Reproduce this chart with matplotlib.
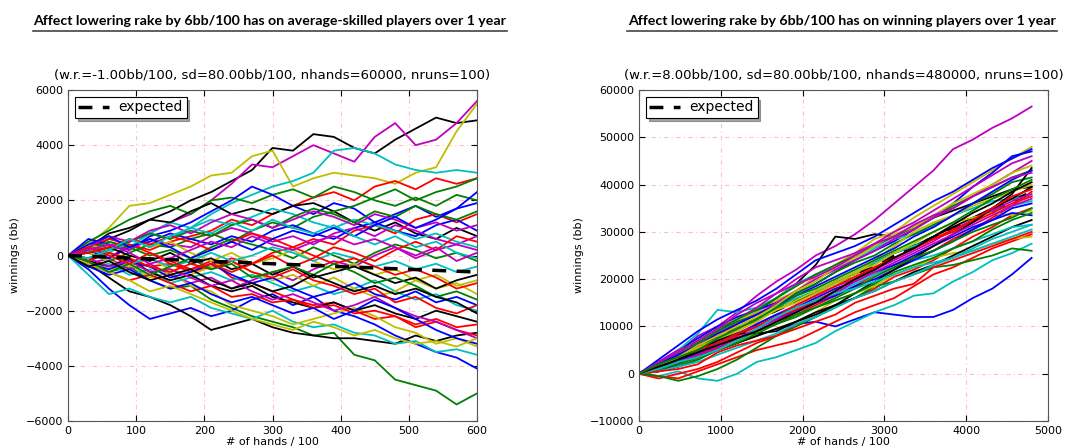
import numpy as np
import matplotlib.pyplot as plt
from matplotlib.lines import Line2D

# ---- data ----
title_left = "Affect lowering rake by 6bb/100 has on average-skilled players over 1 year"
title_right = "Affect lowering rake by 6bb/100 has on winning players over 1 year"
sub_left = "(w.r.=-1.00bb/100, sd=80.00bb/100, nhands=60000, nruns=100)"
sub_right = "(w.r.=8.00bb/100, sd=80.00bb/100, nhands=480000, nruns=100)"

# x positions (# of hands / 100)
x_left = [0, 30, 60, 90, 120, 150, 180, 210, 240, 270, 300, 330, 360, 390, 420, 450, 480, 510, 540, 570, 600]
x_right = [0, 240, 480, 720, 960, 1200, 1440, 1680, 1920, 2160, 2400, 2640, 2880, 3120, 3360, 3600, 3840, 4080, 4320, 4560, 4800]

runs_left = [
    [0, 250, 600, 900, 1300, 1600, 2000, 2300, 2700, 3100, 3900, 3800, 4400, 4300, 3900, 3700, 4200, 4600, 5000, 4800, 4900],
    [0, -200, 300, 500, 800, 1200, 1500, 2000, 2600, 3300, 3200, 3600, 4000, 3700, 3400, 4300, 4800, 4000, 4200, 4800, 5600],
    [0, 400, 1000, 1800, 1900, 2200, 2500, 2900, 3000, 3600, 3800, 2500, 2800, 3000, 2900, 2800, 2600, 3000, 3200, 4500, 5500],
    [0, 200, 500, 300, 800, 1200, 1000, 1500, 1900, 2200, 2500, 2700, 3000, 3800, 3900, 3700, 3300, 3100, 3000, 3100, 3000],
    [0, -300, -600, -400, -900, -1200, -1100, -1600, -1900, -2200, -2400, -2600, -2900, -2800, -3600, -3800, -4500, -4700, -4900, -5400, -5000],
    [0, -500, -1200, -1800, -2300, -2100, -1900, -2200, -2000, -1600, -1400, -1800, -1500, -2000, -2200, -2500, -2900, -3200, -3500, -3700, -4100],
    [0, -300, -800, -1300, -1500, -1800, -2200, -2700, -2500, -2300, -2600, -2800, -2900, -3000, -3000, -3100, -3200, -2900, -3100, -2900, -2800],
    [0, -700, -1400, -1200, -1500, -1700, -1500, -1900, -2100, -2300, -2000, -2400, -2600, -2500, -2800, -2900, -3200, -3100, -3500, -3400, -3600],
    [0, 200, -100, 400, 100, -300, -500, -200, -800, -1000, -1300, -1600, -1800, -1700, -2000, -2300, -2200, -2600, -2400, -2700, -2900],
    [0, 300, 600, 400, 200, 500, 700, 900, 1300, 1100, 1500, 1800, 2100, 2300, 2000, 2500, 2700, 2400, 2800, 2600, 2800],
    [0, 500, 900, 1300, 1600, 1800, 1500, 2000, 2100, 1900, 2200, 2400, 2100, 2500, 2300, 2000, 1800, 2100, 1800, 2200, 2000],
    [0, 600, 400, 200, 700, 900, 1200, 1600, 2000, 2500, 2200, 1800, 1500, 1900, 1700, 1200, 1500, 1800, 1400, 1700, 2300],
    [0, -300, -100, -500, -300, -700, -1000, -800, -1200, -900, -600, -900, -500, -200, -400, 0, 300, -100, 200, 400, 200],
    [0, -200, -500, -300, -800, -600, -1100, -1300, -1800, -2000, -2200, -2500, -2300, -2100, -1900, -2200, -2600, -2800, -3200, -3000, -3300],
    [0, 300, 800, 1000, 1300, 1200, 1600, 1900, 1500, 1700, 1500, 1800, 1900, 1600, 1200, 900, 1200, 800, 600, 1000, 700],
    [0, -100, 100, -200, -400, -300, -600, -400, -100, -300, 100, 300, 600, 400, 900, 1100, 800, 1300, 1500, 1200, 1500],
    [0, 100, -200, 100, 400, 300, 600, 800, 500, 900, 1200, 1000, 1400, 1600, 1800, 2100, 2400, 2000, 2300, 2500, 2800],
    [0, -400, -300, -700, -500, -1000, -800, -600, -900, -700, -1000, -1300, -1100, -1400, -1200, -900, -1300, -1600, -1400, -1800, -2000],
    [0, 200, -100, 300, 500, 800, 600, 400, 700, 500, 900, 1100, 800, 600, 1000, 1200, 900, 700, 1100, 1300, 900],
    [0, 100, 400, 200, 600, 400, 300, 700, 1000, 800, 500, 700, 400, 800, 1000, 700, 1100, 900, 600, 400, 700],
    [0, 100, -200, -400, -100, -500, -700, -400, -200, -600, -900, -700, -1100, -800, -1200, -1500, -1300, -900, -1200, -1000, -1400],
    [0, -200, -400, -100, -600, -900, -700, -1100, -1300, -1100, -1500, -1700, -1900, -1700, -2000, -1800, -2100, -2300, -2000, -2200, -2400],
    [0, -300, -600, -900, -700, -1000, -1300, -1100, -1500, -1400, -1700, -1600, -1900, -1800, -2100, -2000, -2200, -2500, -2300, -2600, -2500],
    [0, 200, 500, 300, 0, 200, -100, 300, 600, 400, 200, -100, 300, 0, -300, 100, 400, 200, -100, 100, -200],
    [0, 300, 100, 500, 800, 600, 1000, 1300, 1100, 1400, 1700, 1500, 1200, 1000, 1300, 1100, 900, 600, 800, 500, 300],
    [0, -300, -500, -200, -400, -800, -600, -300, -700, -1000, -800, -1200, -1500, -1300, -1000, -1400, -1600, -1300, -1700, -1500, -1800],
    [0, -100, -400, -200, -600, -500, -800, -1100, -900, -1300, -1600, -1400, -1700, -2000, -1800, -1500, -1900, -2200, -2400, -2700, -3000],
    [0, 400, 200, 600, 300, 500, 100, -200, 100, -300, -100, 200, -200, -500, -300, -700, -500, -900, -700, -1100, -900],
    [0, 100, 300, 0, -200, 100, -300, -100, -500, -300, -700, -400, -800, -600, -400, -700, -1000, -800, -1200, -900, -700],
    [0, -200, 100, -100, -400, -600, -300, -500, -200, -600, -800, -500, -900, -1100, -1400, -1200, -1700, -1500, -1900, -2100, -1800],
    [0, -100, 200, 500, 800, 600, 900, 700, 1100, 1300, 1000, 1400, 1700, 1500, 1200, 1600, 1400, 1800, 1500, 1300, 1600],
    [0, -400, -700, -500, -900, -1200, -1000, -1400, -1700, -1500, -1800, -2100, -1900, -2300, -2000, -1600, -1900, -2300, -2700, -3000, -3200],
    [0, 200, 0, -300, -100, -400, -200, 100, -200, 0, 300, 100, -200, 100, -100, -400, -200, -500, -300, -600, -400],
    [0, 300, 700, 500, 900, 1100, 800, 1200, 1500, 1300, 1000, 1300, 1600, 1400, 1100, 1500, 1300, 1000, 1200, 900, 1100],
    [0, -300, -600, -900, -1300, -1100, -1400, -1700, -2000, -2300, -2500, -2700, -2400, -2600, -2900, -2700, -3000, -3200, -3100, -3300, -3000],
    [0, 100, 300, 600, 400, 700, 500, 200, 500, 800, 600, 300, 0, -300, -100, -400, -700, -500, -800, -1200, -1000],
    [0, 400, 700, 300, 600, 300, -100, 200, 500, 200, 600, 900, 700, 1000, 700, 1100, 1400, 1000, 1300, 1700, 1900],
    [0, -200, -600, -300, -700, -400, -100, -500, -300, -800, -600, -400, -700, -300, -600, -1000, -800, -1100, -1500, -1300, -1600],
    [0, 300, 0, -300, 100, -200, -500, -300, -600, -300, 0, -400, -100, 300, 100, -200, 200, 500, 200, 700, 500],
    [0, -100, 200, 600, 300, 700, 1000, 800, 1200, 900, 1300, 1000, 800, 1100, 700, 400, 700, 300, 500, 100, -100],
    [0, 200, 400, 100, -300, -100, 200, 500, 300, 700, 400, 200, 500, 700, 400, 600, 300, 0, 300, -200, 100],
    [0, -400, -200, -600, -900, -700, -500, -900, -1200, -1000, -1300, -1100, -700, -1000, -1300, -1100, -1400, -1200, -1500, -1700, -2100],
]
colors_left = ['k', 'm', 'y', 'c', 'g', 'b', 'k', 'c', 'r', 'r', 'g', 'b', 'm', 'y', 'k', 'r', 'g', 'c',
               'b', 'm', 'y', 'k', 'r', 'g', 'c', 'b', 'm', 'y', 'k', 'r', 'g', 'b', 'c', 'm', 'y', 'r',
               'b', 'g', 'r', 'c', 'm', 'k']

runs_right = [
    [0, 2500, 4500, 8000, 10000, 13000, 16500, 19500, 22000, 25000, 27000, 29500, 32500, 36000, 39500, 43000, 47500, 49500, 52000, 54000, 56500],
    [0, 1000, 2500, 4000, 5000, 6500, 8000, 9500, 10500, 11000, 10000, 11500, 13000, 12500, 12000, 12000, 13500, 16000, 18000, 21000, 24500],
    [0, -500, 500, -1000, -1500, 0, 2500, 3500, 5000, 6500, 9000, 11000, 13000, 14500, 16500, 17000, 19500, 21500, 24000, 25500, 27500],
    [0, 2000, 4000, 6000, 8500, 10500, 13000, 16000, 19000, 23000, 29000, 28500, 29500, 29000, 31000, 33000, 34500, 36000, 37500, 39000, 39500],
    [0, 2000, 4500, 6000, 8500, 11000, 13000, 15500, 17500, 20500, 23000, 25500, 28500, 30000, 33000, 35500, 38000, 40500, 43000, 45500, 48000],
    [0, 2500, 5000, 7500, 10000, 12000, 13500, 15000, 17000, 19000, 21500, 24000, 26000, 28000, 30500, 33000, 36000, 39500, 42500, 46000, 47000],
    [0, 2000, 5000, 8500, 13500, 13000, 14000, 16000, 19000, 21000, 22500, 24000, 26500, 28500, 29500, 31000, 33500, 35000, 36500, 37000, 37500],
    [0, -500, -1000, 500, 2000, 3500, 5000, 6000, 7000, 9000, 11000, 13000, 14500, 16000, 18500, 21000, 22500, 24500, 26500, 28000, 29500],
    [0, -1000, 0, 1000, 2500, 4500, 6500, 8000, 10500, 12000, 14500, 16000, 18000, 20500, 22000, 24000, 26500, 29000, 31000, 33500, 35000],
    [0, -500, -1500, -500, 1000, 3000, 5500, 8000, 10000, 12000, 14000, 16000, 18500, 19500, 21000, 22500, 23000, 24000, 25000, 26500, 26000],
    [0, 1000, 2500, 4000, 5500, 6500, 8000, 9500, 11000, 13000, 15500, 17000, 18500, 21000, 22500, 24500, 25500, 26000, 27500, 28500, 29000],
    [0, 1500, 3500, 5500, 7500, 9500, 11500, 13500, 15500, 17000, 19500, 21000, 23500, 25500, 27000, 29000, 31000, 33000, 35000, 37000, 39500],
    [0, 2500, 5000, 6500, 9000, 11500, 14000, 17000, 20000, 22500, 24000, 25500, 27500, 30000, 32000, 34500, 37000, 39500, 42000, 44500, 46000],
    [0, 1500, 4000, 6500, 9000, 11000, 12500, 14500, 17000, 19000, 21500, 23500, 25000, 27500, 29500, 31500, 33500, 36000, 38000, 40500, 41500],
    [0, 500, 2000, 3500, 5500, 7500, 9000, 11000, 12500, 14500, 16500, 18500, 21000, 23000, 24500, 26000, 28500, 30500, 33000, 35500, 38500],
    [0, 1000, 3000, 4500, 7000, 9500, 11500, 14000, 16000, 17500, 19000, 21500, 23500, 25500, 27000, 28500, 30000, 32500, 34500, 35500, 36500],
    [0, 1500, 3000, 5000, 7000, 8500, 10500, 12500, 14500, 16500, 18500, 20000, 22000, 24000, 26000, 28000, 30500, 32500, 34500, 36500, 38000],
    [0, 2000, 3500, 5500, 7000, 9000, 11000, 13500, 15500, 17500, 19500, 21500, 23000, 25500, 27500, 30000, 32000, 33000, 34000, 33500, 34500],
    [0, 1000, 2000, 4000, 6000, 8000, 10500, 12500, 14000, 16000, 18000, 19500, 21500, 23000, 25000, 27000, 29000, 31000, 32500, 34000, 33500],
    [0, 500, 1500, 3000, 5000, 6500, 8000, 9500, 11000, 13000, 14500, 16000, 17500, 19500, 21500, 23000, 25000, 27000, 29000, 31000, 32500],
    [0, 2000, 4500, 7000, 9500, 11500, 13500, 16000, 18500, 21000, 23000, 25000, 27000, 29000, 31000, 33000, 35500, 37500, 39500, 41500, 43000],
    [0, 1000, 2500, 4000, 6000, 8000, 10000, 12000, 14500, 16500, 18500, 20500, 22500, 24500, 26500, 28500, 30500, 32000, 34000, 36000, 37500],
    [0, 1500, 3000, 4500, 6500, 8500, 10000, 11500, 13000, 15000, 17000, 19000, 21000, 22500, 24000, 25000, 26500, 28000, 29500, 31000, 31500],
    [0, 2000, 4000, 6000, 8000, 10500, 12500, 15000, 17500, 20000, 22000, 24000, 26000, 28500, 30500, 33000, 35000, 37500, 40000, 42500, 45000],
    [0, 1500, 3500, 5500, 7500, 9500, 11500, 13500, 15000, 17000, 19000, 21000, 24000, 27000, 30000, 32000, 33500, 35500, 37000, 38500, 40000],
    [0, 1000, 2500, 4500, 6500, 8500, 10000, 11500, 13500, 15000, 16500, 18500, 20000, 22000, 24000, 26000, 28000, 30500, 32500, 35000, 36000],
    [0, 1000, 3000, 5000, 7000, 8500, 8500, 9000, 11000, 12500, 14500, 17000, 19500, 22000, 24500, 27000, 29500, 32000, 35000, 38000, 43500],
    [0, 500, 1500, 3000, 5000, 7000, 9000, 10500, 12500, 14000, 16000, 18000, 20500, 22500, 24500, 26000, 28000, 30000, 31500, 33000, 35000],
    [0, 1500, 3500, 5000, 6500, 8500, 10000, 12000, 13500, 15500, 17500, 20000, 22500, 24500, 26500, 28500, 30000, 32500, 35000, 37500, 39000],
    [0, 500, 1500, 2500, 4000, 5500, 7000, 8500, 10500, 12000, 14000, 16000, 17500, 19500, 21000, 23000, 24500, 26500, 28500, 30000, 31500],
    [0, 2000, 4000, 6000, 8500, 10500, 12500, 14500, 16500, 18500, 20500, 22500, 24500, 26500, 29000, 31000, 33500, 36000, 38500, 41000, 43000],
    [0, 1000, 2500, 4000, 5500, 7500, 9500, 11500, 13000, 15000, 17000, 19500, 21500, 23500, 25500, 27500, 29500, 31500, 33500, 35500, 37000],
    [0, 3000, 6000, 9000, 11500, 13500, 15500, 18000, 21000, 24000, 25500, 27000, 29000, 31500, 34000, 36500, 38500, 41000, 43500, 45500, 47500],
    [0, 1500, 3500, 6000, 8000, 10000, 12000, 14500, 17500, 19500, 22500, 24500, 27000, 29500, 31000, 33500, 36000, 38000, 40000, 42500, 44000],
    [0, 500, 1000, 2000, 4500, 6000, 7000, 8000, 9500, 11000, 12500, 15000, 16500, 18000, 19000, 22500, 24000, 25500, 27000, 28500, 30000],
    [0, 1000, 2000, 3500, 5000, 6500, 8500, 10500, 12000, 14000, 15500, 17000, 19000, 21500, 23000, 24500, 26500, 28000, 30500, 32500, 34000],
    [0, 2500, 4500, 7000, 9500, 12500, 15000, 17000, 19000, 20500, 22500, 25000, 27500, 29000, 31500, 33500, 35000, 37500, 39500, 41500, 42500],
    [0, 1000, 2500, 3500, 5000, 7000, 9500, 12000, 14000, 15500, 17000, 18000, 19500, 21000, 22500, 23500, 24500, 26000, 27500, 29000, 30500],
    [0, 1500, 3000, 4500, 6000, 7500, 9000, 11000, 13000, 15000, 17500, 20000, 22000, 24500, 26500, 29000, 31500, 34000, 36000, 38500, 40500],
    [0, 2000, 3500, 5000, 7500, 9500, 11500, 14000, 16500, 18000, 20000, 22000, 24000, 26000, 28000, 30000, 32000, 34500, 37000, 39000, 41000],
]
colors_right = ['m', 'b', 'c', 'k', 'y', 'b', 'c', 'r', 'r', 'g', 'y', 'k', 'm', 'g', 'r', 'c',
                'm', 'y', 'b', 'k', 'g', 'r', 'c', 'm', 'y', 'b', 'k', 'g', 'r', 'c', 'b', 'm',
                'b', 'y', 'r', 'g', 'm', 'c', 'k', 'g']

# expected line end points
expected_left = [0, -600]
expected_right = [0, 38400]

classic = {'b': (0, 0, 1), 'g': (0, 0.5, 0), 'r': (1, 0, 0), 'c': (0, 0.75, 0.75),
           'm': (0.75, 0, 0.75), 'y': (0.75, 0.75, 0), 'k': (0, 0, 0)}

fig = plt.figure(figsize=(10.89, 4.48), dpi=100)
ax1 = fig.add_axes([68 / 1089, 27 / 448, 409 / 1089, 331 / 448])
ax2 = fig.add_axes([639 / 1089, 27 / 448, 409 / 1089, 331 / 448])


def draw_panel(ax, xs, runs, cols, x_end, expected, sub, xlim, ylim, yticks, exp_z):
    for run, c in zip(runs, cols):
        ax.plot(xs, run, color=classic[c], lw=1.3)
    ax.plot([0, x_end], expected, color='k', lw=2.5, ls='--', dashes=(4, 3),
            label='expected', zorder=exp_z)
    ax.set_xlim(*xlim)
    ax.set_ylim(*ylim)
    ax.set_yticks(yticks)
    ax.grid(True, color='#ffc0cb', ls=(0, (4, 3, 1, 3)), lw=0.8)
    ax.tick_params(direction='in', top=True, right=True, labelsize=8, length=4)
    for sp in ax.spines.values():
        sp.set_color('#555555')
    ax.set_xlabel('# of hands / 100', fontsize=8, labelpad=1)
    ax.set_ylabel('winnings (bb)', fontsize=8)
    ax.set_title(sub, fontsize=9.5, pad=8)
    leg = ax.legend(loc='upper left', fontsize=10, shadow=True, fancybox=False,
                    handlelength=2.2, handletextpad=0.7, borderpad=0.25, borderaxespad=0.5)
    leg.get_frame().set_edgecolor('k')
    leg.get_frame().set_linewidth(0.8)


draw_panel(ax1, x_left, runs_left, colors_left, 600, expected_left, sub_left,
           (0, 600), (-6000, 6000), range(-6000, 6001, 2000), 5)
draw_panel(ax2, x_right, runs_right, colors_right, 4800, expected_right, sub_right,
           (0, 5000), (-10000, 60000), range(-10000, 60001, 10000), 1.9)

# headline titles with underline
fig.text(270 / 1089, 1 - 21 / 448, title_left, ha='center', va='center',
         fontsize=10.2, fontweight='bold', family='Lato')
fig.text(842 / 1089, 1 - 21 / 448, title_right, ha='center', va='center',
         fontsize=10.2, fontweight='bold', family='Lato')
fig.add_artist(Line2D([33 / 1089, 507 / 1089], [1 - 31 / 448, 1 - 31 / 448], color='#444444', lw=1.2))
fig.add_artist(Line2D([627 / 1089, 1057 / 1089], [1 - 31 / 448, 1 - 31 / 448], color='#444444', lw=1.2))

fig.savefig('out.png', dpi=100)
